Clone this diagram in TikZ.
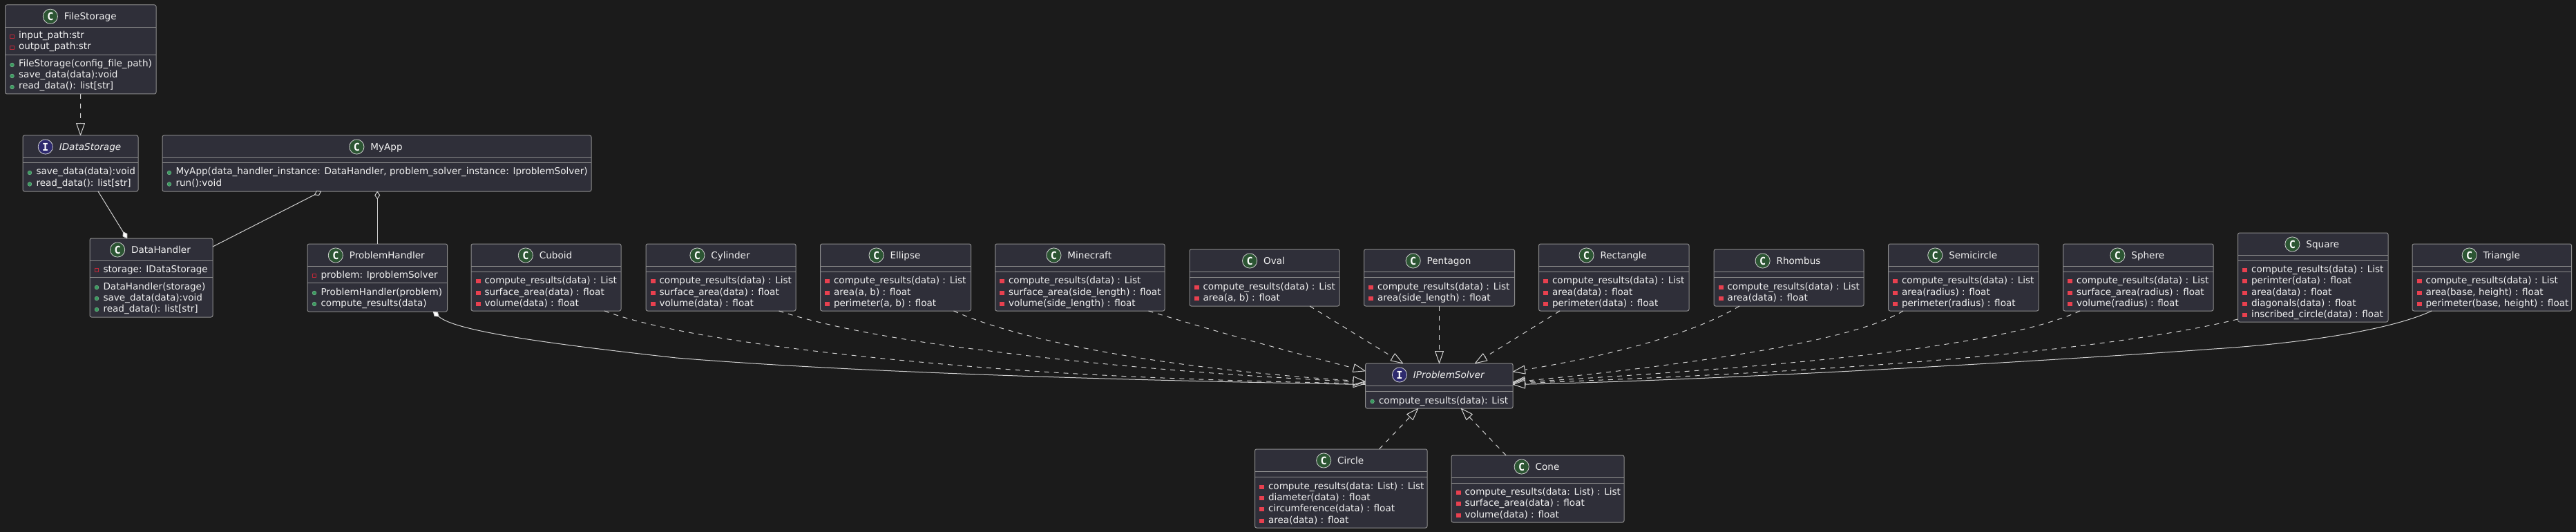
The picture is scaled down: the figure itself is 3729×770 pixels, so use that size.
\documentclass[tikz,border=0pt]{standalone}
\usepackage{fontspec}
\setmainfont{DejaVu Sans}
\newfontfamily\iconfont{DejaVu Sans Mono}
\usetikzlibrary{arrows.meta,calc}
\catcode`\_=12
\definecolor{bgc}{HTML}{1B1B1B}
\definecolor{boxc}{HTML}{2F2F39}
\definecolor{edgec}{HTML}{8C8C8C}
\definecolor{linec}{HTML}{D0D0D0}
\definecolor{txtc}{HTML}{F0F0F0}
\definecolor{classc}{HTML}{2C5533}
\definecolor{ifacec}{HTML}{2E2A6E}
\definecolor{privc}{HTML}{E8404F}
\definecolor{privo}{HTML}{C02838}
\definecolor{pubc}{HTML}{3A9A5F}
\tikzset{
  x=0.5pt,y=-0.5pt,
  umlbox/.style={draw=edgec,fill=boxc,line width=0.5pt,rounded corners=1.25pt,inner sep=0pt,outer sep=0pt},
  sepline/.style={draw=edgec,line width=0.5pt},
  rowtext/.style={text=txtc,font=\fontsize{6.78}{8}\selectfont,inner sep=0pt,outer sep=0pt,anchor=base west},
  titletext/.style={text=txtc,font=\fontsize{6.78}{8}\selectfont,inner sep=0pt,outer sep=0pt,anchor=base},
  iconc/.style={circle,draw=linec,line width=0.4pt,fill=classc,minimum size=10.6pt,inner sep=0pt,text=white,font=\iconfont\bfseries\fontsize{7.6}{8}\selectfont},
  iconi/.style={iconc,fill=ifacec},
  viscm/.style={rectangle,fill=privc,minimum width=3.5pt,minimum height=3.3pt,inner sep=0pt},
  visca/.style={rectangle,draw=privo,line width=0.5pt,minimum width=2.9pt,minimum height=2.9pt,inner sep=0pt},
  viscp/.style={circle,fill=pubc,draw=pubc!60!white,line width=0.2pt,minimum size=2.9pt,inner sep=0pt},
  conn/.style={draw=linec,line width=0.5pt},
  dep/.style={conn,dash pattern=on 3.5pt off 3.5pt,-{Triangle[length=9.5pt,width=6.5pt,fill=bgc,round]}},
  inh/.style={conn,-{Triangle[length=9.5pt,width=6.5pt,fill=bgc,round]}},
  compo/.style={conn,-{Diamond[length=6pt,width=4pt,fill=white,round]}},
  compos/.style={conn,{Diamond[length=6pt,width=4pt,fill=white,round]}-},
  aggr/.style={conn,{Diamond[length=6pt,width=4pt,fill=bgc,round]}-},
}
\newcount\rowno
% id x1 y1 x2 y2 line1 line2 iconstyle title
\newcommand\classbox[9]{%
  \node[umlbox,minimum width={(#4-#2)*0.5pt},minimum height={(#5-#3)*0.5pt}] (#1) at ({(#2+#4)/2},{(#3+#5)/2}) {};
  \draw[sepline] (#1.west |- 0,#6) -- (#1.east |- 0,#6);
  \draw[sepline] (#1.west |- 0,#7) -- (#1.east |- 0,#7);
  \node[titletext] (#1-t) at ({(#2+#4)/2+14},{(#3+#6)/2+5.5}) {#9};
  \node[#8] (#1-i) at ($(#1-t.west |- 0,{(#3+#6)/2})+(-20,0.5)$) {\ifnum\strcmp{#8}{iconi}=0 I\else C\fi};
  \gdef\bx{#2}%
}
\newcommand\crow[3]{%
  \global\advance\rowno by 1
  \node[visc#1] (i\the\rowno) at (\bx+10,#2+2) {};
  \node[rowtext] (r\the\rowno) at (\bx+19.5,#2+5) {#3};
}
\begin{document}
\begin{tikzpicture}
\useasboundingbox (0,0) rectangle (3729,770);
\fill[bgc] (0,0) rectangle (3729,770);

\classbox{filestorage}{7.5}{7}{226}{136}{39.5}{79.5}{iconc}{FileStorage}
\crow{a}{51}{input_path:str}
\crow{a}{67}{output_path:str}
\crow{p}{92}{FileStorage(config_file_path)}
\crow{p}{108}{save_data(data):void}
\crow{p}{124}{read_data(): list[str]}

\classbox{idatastorage}{33}{196}{200}{277}{228}{236}{iconi}{\itshape IDataStorage}
\crow{p}{248}{save_data(data):void}
\crow{p}{264.5}{read_data(): list[str]}

\classbox{myapp}{235}{196}{856}{277}{228}{236}{iconc}{MyApp}
\crow{p}{248}{MyApp(data_handler_instance: DataHandler, problem_solver_instance: IproblemSolver)}
\crow{p}{264.5}{run():void}

\classbox{datahandler}{130}{345}{308}{459}{377}{401}{iconc}{DataHandler}
\crow{a}{389}{storage: IDataStorage}
\crow{p}{414}{DataHandler(storage)}
\crow{p}{430}{save_data(data):void}
\crow{p}{446}{read_data(): list[str]}

\classbox{problemhandler}{445}{353}{647.5}{451}{385}{409}{iconc}{ProblemHandler}
\crow{a}{397}{problem: IproblemSolver}
\crow{p}{422}{ProblemHandler(problem)}
\crow{p}{438}{compute_results(data)}

\classbox{cuboid}{682}{353}{899}{450}{385}{393}{iconc}{Cuboid}
\crow{m}{405}{compute_results(data) : List}
\crow{m}{422}{surface_area(data) : float}
\crow{m}{438}{volume(data) : float}

\classbox{cylinder}{935}{353}{1152}{450}{385}{393}{iconc}{Cylinder}
\crow{m}{405}{compute_results(data) : List}
\crow{m}{422}{surface_area(data) : float}
\crow{m}{438}{volume(data) : float}

\classbox{ellipse}{1187.5}{353}{1405.5}{450}{385}{393}{iconc}{Ellipse}
\crow{m}{405}{compute_results(data) : List}
\crow{m}{422}{area(a, b) : float}
\crow{m}{438}{perimeter(a, b) : float}

\classbox{minecraft}{1440.5}{353}{1686}{450}{385}{393}{iconc}{Minecraft}
\crow{m}{405}{compute_results(data) : List}
\crow{m}{422}{surface_area(side_length) : float}
\crow{m}{438}{volume(side_length) : float}

\classbox{oval}{1722}{361}{1939}{443}{393}{401}{iconc}{Oval}
\crow{m}{414}{compute_results(data) : List}
\crow{m}{430}{area(a, b) : float}

\classbox{pentagon}{1974.5}{361}{2192.5}{443}{393}{401}{iconc}{Pentagon}
\crow{m}{414}{compute_results(data) : List}
\crow{m}{430}{area(side_length) : float}

\classbox{rectangle}{2227.5}{353}{2445}{450}{385}{393}{iconc}{Rectangle}
\crow{m}{405}{compute_results(data) : List}
\crow{m}{422}{area(data) : float}
\crow{m}{438}{perimeter(data) : float}

\classbox{rhombus}{2481}{361}{2698}{443}{393}{401}{iconc}{Rhombus}
\crow{m}{414}{compute_results(data) : List}
\crow{m}{430}{area(data) : float}

\classbox{semicircle}{2733.5}{353}{2951}{450}{385}{393}{iconc}{Semicircle}
\crow{m}{405}{compute_results(data) : List}
\crow{m}{422}{area(radius) : float}
\crow{m}{438}{perimeter(radius) : float}

\classbox{sphere}{2986.5}{353}{3204}{450}{385}{393}{iconc}{Sphere}
\crow{m}{405}{compute_results(data) : List}
\crow{m}{422}{surface_area(radius) : float}
\crow{m}{438}{volume(radius) : float}

\classbox{square}{3239.5}{337}{3457}{466}{369}{377}{iconc}{Square}
\crow{m}{389}{compute_results(data) : List}
\crow{m}{405}{perimter(data) : float}
\crow{m}{422}{area(data) : float}
\crow{m}{438}{diagonals(data) : float}
\crow{m}{454}{inscribed_circle(data) : float}

\classbox{triangle}{3492}{353}{3722.5}{450}{385}{393}{iconc}{Triangle}
\crow{m}{405}{compute_results(data) : List}
\crow{m}{422}{area(base, height) : float}
\crow{m}{438}{perimeter(base, height) : float}

\classbox{iproblemsolver}{1976.5}{526}{2190}{591}{558}{566}{iconi}{\itshape IProblemSolver}
\crow{p}{579}{compute_results(data): List}

\classbox{circle}{1816.5}{650}{2066}{764}{682}{690}{iconc}{Circle}
\crow{m}{703}{compute_results(data: List) : List}
\crow{m}{719}{diameter(data) : float}
\crow{m}{735}{circumference(data) : float}
\crow{m}{752}{area(data) : float}

\classbox{cone}{2101}{659}{2351}{756}{691}{699}{iconc}{Cone}
\crow{m}{711}{compute_results(data: List) : List}
\crow{m}{727}{surface_area(data) : float}
\crow{m}{744}{volume(data) : float}

% connectors
\draw[dep] (filestorage.south) -- (idatastorage.north);
\draw[compo] ($(idatastorage.south west)+(109,0)$) -- ($(datahandler.north west)+(54,0)$);
\draw[aggr] ($(myapp.south west)+(230,0)$) -- ($(datahandler.north east)+(0,12)$);
\draw[aggr] (myapp.south -| problemhandler.north) -- (problemhandler.north);

\draw[compos] ($(problemhandler.south west)+(182,0)$) .. controls (660,480) and (800,498) .. (979,518)
   .. controls (1250,540) and (1650,551) .. ($(iproblemsolver.north west)+(0,30.5)$);
\draw[dep] ($(cuboid.south west)+(193,0)$) .. controls (960,482) and (1150,510) .. (1425,532)
   .. controls (1600,546) and (1800,552) .. ($(iproblemsolver.north west)+(0,29)$);
\draw[dep] ($(cylinder.south west)+(192.5,0)$) .. controls (1200,474) and (1320,495) .. (1425,507)
   .. controls (1600,530) and (1800,545) .. ($(iproblemsolver.north west)+(0,27)$);
\draw[dep] ($(ellipse.south west)+(193,0)$) .. controls (1480,495) and (1700,535) .. ($(iproblemsolver.north west)+(0,26)$);
\draw[dep] ($(minecraft.south west)+(222,0)$) .. controls (1760,480) and (1870,510) .. ($(iproblemsolver.north west)+(0,11)$);
\draw[dep] ($(oval.south west)+(174,0)$) -- ($(iproblemsolver.north west)+(54.5,0)$);
\draw[dep] ($(pentagon.south west)+(109,0)$) -- ($(iproblemsolver.north west)+(107,0)$);
\draw[dep] ($(rectangle.south west)+(30.5,0)$) -- ($(iproblemsolver.north west)+(158.5,0)$);
\draw[dep] ($(rhombus.south west)+(37,0)$) .. controls (2440,490) and (2300,520) .. ($(iproblemsolver.north east)+(0,12)$);
\draw[dep] ($(semicircle.south west)+(21.5,0)$) .. controls (2690,490) and (2480,525) .. ($(iproblemsolver.north east)+(0,27)$);
\draw[dep] ($(sphere.south west)+(24.5,0)$) .. controls (2880,510) and (2500,535) .. ($(iproblemsolver.north east)+(0,28)$);
\draw[dep] ($(square.south west)+(0,-4)$) .. controls (3020,515) and (2600,540) .. ($(iproblemsolver.north east)+(0,29)$);
\draw[inh] ($(triangle.south west)+(28,0)$) .. controls (3460,478) and (3330,497) .. (3205,505)
   .. controls (3000,520) and (2500,550) .. ($(iproblemsolver.north east)+(0,30.5)$);
\draw[dep] ($(circle.north west)+(180,0)$) -- ($(iproblemsolver.south west)+(76.5,0)$);
\draw[dep] ($(cone.north west)+(79,0)$) -- ($(iproblemsolver.south west)+(138.5,0)$);
\end{tikzpicture}
\end{document}
